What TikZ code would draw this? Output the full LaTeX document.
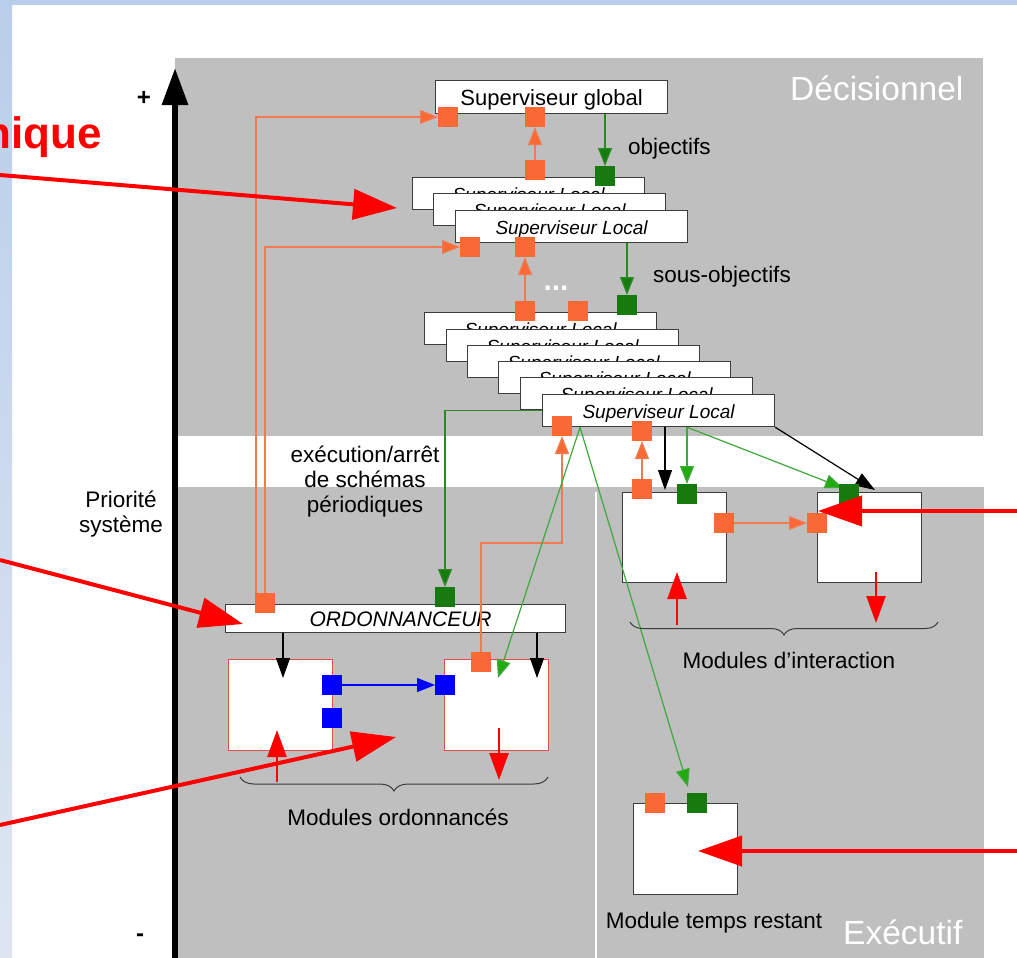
\documentclass[tikz,border=0pt]{standalone}
\usepackage{fontspec}
\setmainfont{Liberation Sans}
\usetikzlibrary{arrows.meta,calc,decorations.pathreplacing}
\definecolor{bgray}{HTML}{BFBFBF}
\definecolor{bluetop}{HTML}{B9CEEA}
\definecolor{bluebot}{HTML}{DEE6F2}
\definecolor{orng}{HTML}{FA6835}
\definecolor{oline}{HTML}{F27A4E}
\definecolor{dgr}{HTML}{177A0F}
\definecolor{gline}{HTML}{2A8A22}
\definecolor{lgline}{HTML}{3DAA3A}
\definecolor{lgtip}{HTML}{22AA11}
\definecolor{boxc}{HTML}{3C3C3C}
\definecolor{redb}{HTML}{E0504A}
\begin{document}
\begin{tikzpicture}[x=1pt,y=-1pt,
  box/.style={draw=boxc, line width=1.2pt, fill=white, inner sep=0pt, anchor=north west},
  slbox/.style={box, minimum width=232pt, minimum height=32pt, text height=15pt, text depth=0pt, font=\fontsize{19}{22}\selectfont\itshape},
  smod/.style={draw=redb, line width=1.2pt, fill=white, inner sep=0pt, anchor=north west, minimum width=104pt, minimum height=91pt},
  imod/.style={box, minimum width=104pt, minimum height=90pt},
  sq/.style={minimum size=20pt, inner sep=0pt, outer sep=0pt},
  osq/.style={sq, fill=orng},
  gsq/.style={sq, fill=dgr},
  bsq/.style={sq, fill=blue},
  oarr/.style={draw=oline, line width=1.3pt, -{Triangle[length=18pt,width=14pt,fill=orng]}},
  garr/.style={draw=gline, line width=1.3pt, -{Triangle[length=18pt,width=14pt,fill=dgr]}},
  lgarr/.style={draw=lgline, line width=1.2pt, -{Triangle[length=18pt,width=14pt,fill=lgtip]}},
  barr/.style={draw=black, line width=1.2pt, -{Triangle[length=20pt,width=14pt]}},
  bluearr/.style={draw=blue, line width=1.2pt, -{Triangle[length=18pt,width=14pt]}},
  rarr/.style={draw=red, line width=2.5pt, -{Triangle[length=27pt,width=19pt]}},
  bigr/.style={draw=red, line width=4pt, -{Triangle[length=44pt,width=30pt]}},
  txt/.style={font=\fontsize{22.5}{25}\selectfont, inner sep=0pt},
  bigw/.style={font=\fontsize{33.5}{36}\selectfont, text=white, inner sep=0pt},
  brc/.style={draw=boxc, line width=1pt, decorate, decoration={brace, mirror, amplitude=14pt}}
]
\useasboundingbox (0,0) rectangle (1017,958);
\clip (0,0) rectangle (1017,958);
% background
\fill[white] (0,0) rectangle (1017,958);
\fill[bluetop] (0,0) rectangle (1017,5);
\shade[top color=bluetop, bottom color=bluebot] (0,0) rectangle (12,958);
\fill[bgray] (175,58) rectangle (983,436);
\fill[bgray] (175,487) rectangle (984,958);
\draw[white, line width=1.2pt] (596,492) -- (596,958);

% axis
\draw[line width=6pt, -{Triangle[length=37pt,width=25pt]}] (175,958) -- (175,68);
\node[font=\bfseries\fontsize{24}{24}\selectfont, inner sep=0pt] (plus) at (144,98) {+};
\node[font=\bfseries\fontsize{24}{24}\selectfont, inner sep=0pt] (minus) at (140,938) {-};
\node[txt, align=center, anchor=base] (prio) at (121,532) {Priorité\\système};

% red annotation text
\node[font=\bfseries\fontsize{44}{48}\selectfont, text=red, anchor=base east, inner sep=0pt] (ann) at (102,148) {nique};

% supervisors
\node[box, minimum width=232pt, minimum height=33pt, text height=16pt, text depth=0pt, font=\fontsize{22}{24}\selectfont] (sg) at (435,80) {Superviseur global};
\node[slbox] (l1) at (412,177) {Superviseur Local};
\node[slbox] (l2) at (433,193) {Superviseur Local};
\node[slbox] (l3) at (455,210) {Superviseur Local};
\node[slbox] (b1) at (424,312) {Superviseur Local};
\node[slbox] (b2) at (446,329) {Superviseur Local};
\node[slbox] (b3) at (467,345) {Superviseur Local};
\node[slbox] (b4) at (498,361) {Superviseur Local};
\node[slbox] (b5) at (520,377) {Superviseur Local};
\node[slbox] (b6) at (542,394) {Superviseur Local};

% scheduler and modules
\node[box, minimum width=340pt, minimum height=28pt, text height=15pt, text depth=0pt, font=\fontsize{21}{24}\selectfont\itshape] (ordo) at (225,604) {\hspace*{10pt}ORDONNANCEUR};
\node[smod] (m1) at (228,659) {};
\node[smod] (m2) at (444,659) {};
\node[imod] (im1) at (622,492) {};
\node[imod] (im2) at (817,492) {};
\node[imod, minimum height=91pt] (tm) at (633,803) {};

% ports
\node[osq] (sgA) at (448,117) {};
\node[osq] (sgB) at (535,117) {};
\node[osq] (s1o) at (535,170) {};
\node[gsq] (s1g) at (605,176) {};
\node[osq] (l3a) at (470,247) {};
\node[osq] (l3b) at (525,247) {};
\node[osq] (s2a) at (525,311) {};
\node[osq] (s2b) at (578,311) {};
\node[gsq] (s2g) at (627,305) {};
\node[osq] (b6a) at (562,426) {};
\node[osq] (b6b) at (642,431) {};
\node[osq] (i1o) at (642,489) {};
\node[gsq] (i1g) at (687,494) {};
\node[osq] (i1r) at (724,523) {};
\node[osq] (i2l) at (817,523) {};
\node[gsq] (i2g) at (849,494) {};
\node[osq] (oo) at (265,603) {};
\node[gsq] (og) at (445,597) {};
\node[bsq] (mb1) at (332,685) {};
\node[bsq] (mb2) at (332,718) {};
\node[bsq] (mb3) at (445,685) {};
\node[osq] (m2o) at (481,662) {};
\node[osq] (to) at (655,803) {};
\node[gsq] (tg) at (697,803) {};

% free ends
\coordinate (ap) at ($(b6.south west)+(38,0)$);
\coordinate (gt1) at (498,678);
\coordinate (gt2) at (688,787);
\coordinate (gt3) at (843,488);
\coordinate (bx1) at (665,490);
\coordinate (bx2) at (875,490);
\coordinate (ob1) at (283,678);
\coordinate (ob2) at (537,678);

% orange connectors
\draw[oarr] ($(oo.north)+(-9,0)$) |- (sgA.west);
\draw[oarr] (oo.north) |- (l3a.west);
\draw[oarr] (s1o.north) -- (sgB.south);
\draw[oarr] (s2a.north) -- (l3b.south);
\draw[oarr] (m2o.north) -- ++(0,-109) -| (b6a.south);
\draw[oarr] (i1o.north) -- (b6b.south);
\draw[oarr] (i1r.east) -- (i2l.west);

% green connectors
\draw[garr] (sg.south -| s1g.north) -- (s1g.north);
\draw[garr] (l3.south -| s2g.north) -- (s2g.north);
\draw[garr] (b6.west) -| (og.north);
\draw[lgarr] (ap) -- (gt1);
\draw[lgarr] (ap) -- (gt2);
\draw[lgarr] (b6.south -| i1g.north) -- (i1g.north);
\draw[lgarr] (b6.south -| i1g.north) -- (gt3);

% black connectors
\draw[barr] (b6.south -| bx1) -- (bx1);
\draw[barr] (b6.south east) -- (bx2);
\draw[barr] (ordo.south -| ob1) -- (ob1);
\draw[barr] (ordo.south -| ob2) -- (ob2);

% blue connector
\draw[bluearr] (mb1.east) -- (mb3.west);

% redraw ports on top
\foreach \n in {sgA,sgB,s1o,l3a,l3b,s2a,s2b,b6a,b6b,i1o,i1r,i2l,oo,m2o,to}
  \fill[orng] (\n.south west) rectangle (\n.north east);
\foreach \n in {s1g,s2g,i1g,i2g,og,tg}
  \fill[dgr] (\n.south west) rectangle (\n.north east);

% red module arrows
\coordinate (r1s) at (277,782); \coordinate (r1e) at (277,730);
\coordinate (r2s) at (499,728); \coordinate (r2e) at (499,780);
\coordinate (r3s) at (677,625); \coordinate (r3e) at (677,572);
\coordinate (r4s) at (876,572); \coordinate (r4e) at (876,623);
\draw[rarr] (r1s) -- (r1e);
\draw[rarr] (r2s) -- (r2e);
\draw[rarr] (r3s) -- (r3e);
\draw[rarr] (r4s) -- (r4e);

% braces
\draw[brc] (240,777) -- (548,777);
\draw[brc, decoration={brace, mirror, amplitude=13pt}] (630,622) -- (938,622);

% labels
\node[txt, anchor=base west] (lobj) at (628,154) {objectifs};
\node[txt, anchor=base west] (lsobj) at (653,282) {sous-objectifs};
\node[font=\bfseries\fontsize{30}{30}\selectfont, text=white, inner sep=0pt, anchor=base] (dots) at (556,290) {...};
\node[txt, align=center, anchor=base] (lexe) at (365,512) {exécution/arrêt\\de schémas\\périodiques};
\node[txt, anchor=base] (lmo) at (398,825) {Modules ordonnancés};
\node[txt, anchor=base] (lmi) at (789,668) {Modules d'interaction};
\node[txt, anchor=base] (lmt) at (714,928) {Module temps restant};
\node[bigw, anchor=base west] (ldec) at (790,100) {Décisionnel};
\node[bigw, anchor=base west] (lexc) at (843,944) {Exécutif};

% red annotation arrows
\coordinate (a1s) at (0,175); \coordinate (a1e) at (397,208);
\coordinate (a2s) at (0,560); \coordinate (a2e) at (243,624);
\coordinate (a3s) at (0,825); \coordinate (a3e) at (396,737);
\coordinate (a4s) at (1017,511); \coordinate (a4e) at (818,511);
\coordinate (a5s) at (1017,851); \coordinate (a5e) at (698,851);
\draw[bigr] (a1s) -- (a1e);
\draw[bigr] (a2s) -- (a2e);
\draw[bigr] (a3s) -- (a3e);
\draw[bigr] (a4s) -- (a4e);
\draw[bigr] (a5s) -- (a5e);
\end{tikzpicture}
\end{document}
